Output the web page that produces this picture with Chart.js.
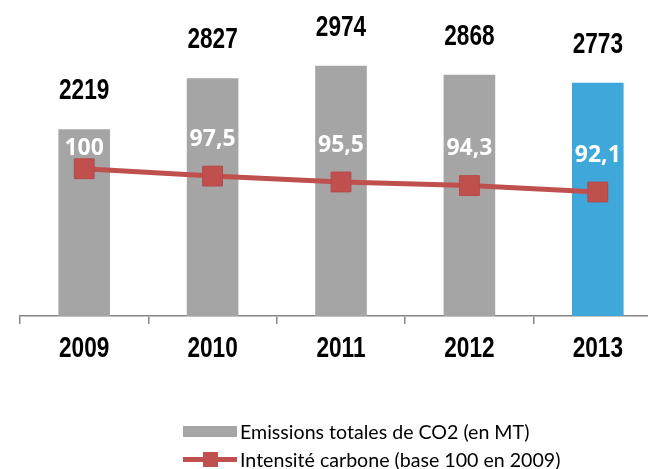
<!DOCTYPE html>
<html>
<head>
<meta charset="utf-8">
<script src="https://cdn.jsdelivr.net/npm/chart.js@4.4.1/dist/chart.umd.min.js"></script>
<style>
    html, body { margin: 0; padding: 0; background: #fff; overflow: hidden; }
    #wrap { position: relative; width: 648px; height: 469px; overflow: hidden; }
    #legend { position: absolute; left: 183px; top: 417px; font-family: Lato, 'Open Sans', sans-serif; font-size: 19.6px; color: #000; }
    .item { height: 28px; display: flex; align-items: center; }
    .swatch { width: 54px; height: 11px; position: relative; margin-right: 3px; }
    .bar-sw { background: #a5a5a5; }
    .line-sw::before { content: ''; position: absolute; left: 0; right: 0; top: 3px; height: 5px; background: #c0504d; }
    .line-sw::after { content: ''; position: absolute; left: 20px; top: -2px; width: 15px; height: 15px; background: #c0504d; }
</style>
</head>
<body>
<div id="wrap">
    <!-- canvas a bit wider than the page: the plot runs past the right edge -->
    <canvas id="myChart" width="662" height="469"></canvas>
    <div id="legend">
        <div class="item"><span class="swatch bar-sw"></span>Emissions totales de CO2 (en MT)</div>
        <div class="item"><span class="swatch line-sw"></span>Intensité carbone (base 100 en 2009)</div>
    </div>
</div>
<script>
const years = ['2009', '2010', '2011', '2012', '2013'];
const emissions = [2219, 2827, 2974, 2868, 2773];
const intensity = [100, 97.5, 95.5, 94.3, 92.1];

const grey = '#a5a5a5';
const blue = '#3ea8db';
const red = '#c0504d';

// French decimal comma
function fmt(v) {
    return Number.isInteger(v) ? String(v) : v.toFixed(1).replace('.', ',');
}

// narrow bold text (no Arial Narrow here, so squeeze Liberation Sans)
function narrowText(ctx, text, x, y) {
    ctx.save();
    ctx.translate(x, y);
    ctx.scale(0.78, 1);
    ctx.fillText(text, 0, 0);
    ctx.restore();
}

// draws the year labels, the values above the bars and on the line
const valueLabels = {
    id: 'valueLabels',
    afterDatasetsDraw(chart) {
        const ctx = chart.ctx;
        const barMeta = chart.getDatasetMeta(1);
        const lineMeta = chart.getDatasetMeta(0);
        const xScale = chart.scales.x;
        ctx.save();
        ctx.textAlign = 'center';
        ctx.textBaseline = 'middle';

        ctx.fillStyle = '#000';
        ctx.font = "bold 29px 'Liberation Sans', Arial, sans-serif";
        barMeta.data.forEach((bar, i) => {
            narrowText(ctx, String(emissions[i]), bar.x, bar.y - 38);
        });
        years.forEach((yr, i) => {
            narrowText(ctx, yr, xScale.getPixelForValue(i), chart.chartArea.bottom + 33);
        });

        ctx.fillStyle = '#fff';
        ctx.font = "bold 23px 'Open Sans', sans-serif";
        lineMeta.data.forEach((pt, i) => {
            // keep the label inside the bar
            const y = Math.max(pt.y - 37, barMeta.data[i].y + 19);
            ctx.fillText(fmt(intensity[i]), pt.x, y);
        });
        ctx.restore();
    }
};

new Chart(document.getElementById('myChart'), {
    type: 'bar',
    data: {
        labels: years,
        datasets: [{
            type: 'line',
            label: 'Intensité carbone (base 100 en 2009)',
            data: intensity,
            yAxisID: 'y2',
            borderColor: red,
            backgroundColor: red,
            borderWidth: 5,
            pointStyle: 'rect',
            pointRadius: 14,
            pointBorderWidth: 1,
            pointBorderColor: '#b64845',
            pointBackgroundColor: red,
            tension: 0,
            order: 0
        }, {
            type: 'bar',
            label: 'Emissions totales de CO2 (en MT)',
            data: emissions,
            yAxisID: 'y',
            backgroundColor: years.map(y => y === '2013' ? blue : grey),
            barPercentage: 0.402,
            categoryPercentage: 1,
            order: 1
        }]
    },
    options: {
        responsive: false,
        animation: false,
        layout: { autoPadding: false, padding: { left: 20, right: 0, top: 21.5, bottom: 145 } },
        plugins: {
            legend: { display: false },
            tooltip: { enabled: false }
        },
        scales: {
            x: {
                offset: true,
                grid: { display: true, drawOnChartArea: false, tickLength: 8, color: '#868686', lineWidth: 1.5, offset: true },
                border: { display: true, color: '#868686', width: 1.5 },
                ticks: { display: false }
            },
            y: { display: false, min: 0, max: 3500 },
            y2: { display: false, min: 50, max: 150 }
        }
    },
    plugins: [valueLabels]
});
</script>
</body>
</html>
